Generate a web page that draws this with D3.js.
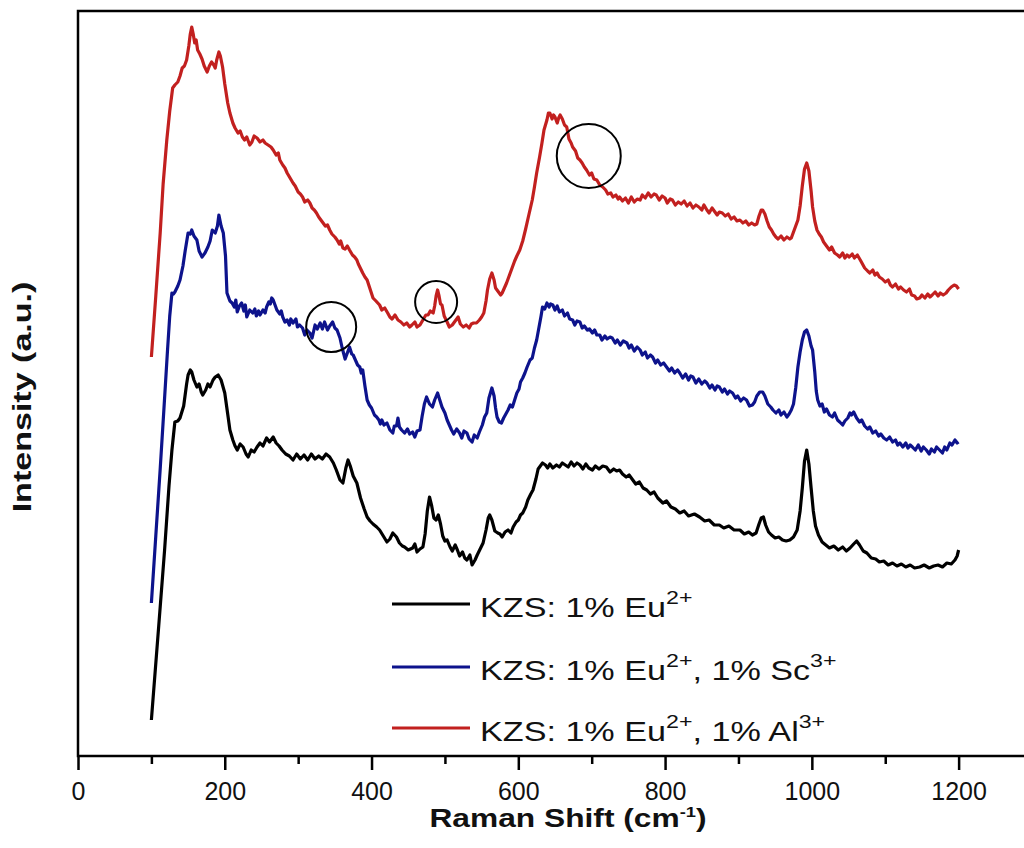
<!DOCTYPE html>
<html>
<head>
<meta charset="utf-8">
<script src="https://cdn.jsdelivr.net/npm/d3@7"></script>
<style>
  body { margin: 0; background: #fff; }
  svg { display: block; font-family: "Liberation Sans", Arial, sans-serif; }
</style>
</head>
<body>
<script>
// Raman spectra, [shift cm-1, intensity a.u.]
const eu = [[100,36],[110,130],[118,206],[124,270],[128,306],[132,334],[136,335],[139,338],[144,350],[148,372],[150,381],[153,386],[155,384],[158,376],[162,369],[165,372],[168,364],[170,361],[174,366],[177,372],[180,369],[184,376],[187,379],[191,381],[195,376],[200,363],[204,342],[207,326],[211,316],[214,310],[217,306],[221,312],[225,309],[229,302],[232,299],[236,306],[240,304],[244,309],[248,313],[252,310],[257,318],[261,314],[266,319],[270,313],[274,310],[278,306],[283,302],[288,300],[293,296],[298,302],[303,297],[308,301],[313,296],[318,302],[323,297],[328,300],[333,297],[338,302],[343,299],[348,293],[352,286],[357,276],[361,273],[365,288],[368,296],[371,290],[375,280],[380,273],[385,258],[390,247],[394,239],[398,235],[402,232],[407,229],[411,226],[416,220],[421,214],[425,217],[429,223],[434,219],[438,213],[442,210],[445,209],[450,206],[456,208],[459,212],[462,204],[466,207],[470,209],[473,222],[476,245],[479,259],[482,250],[485,238],[488,236],[491,241],[494,232],[497,220],[500,215],[503,216],[507,209],[510,205],[514,211],[517,206],[520,200],[524,204],[527,198],[530,196],[534,201],[537,191],[541,196],[544,201],[548,207],[552,213],[556,226],[559,238],[561,241],[564,236],[568,225],[572,223],[575,222],[578,219],[582,224],[586,226],[590,223],[593,229],[597,234],[600,236],[603,241],[606,243],[610,249],[613,256],[617,262],[620,266],[624,277],[627,287],[630,290],[633,293],[637,291],[640,288],[643,292],[647,288],[652,291],[656,289],[660,293],[664,291],[668,289],[672,294],[676,290],[680,293],[684,291],[688,287],[692,292],[696,288],[701,286],[705,290],[710,287],[715,290],[720,289],[725,284],[730,287],[734,285],[738,286],[742,282],[747,279],[751,281],[756,276],[760,272],[765,274],[770,268],[775,266],[780,262],[785,264],[790,258],[797,253],[802,255],[808,249],[814,247],[820,243],[826,245],[832,240],[840,242],[847,239],[854,235],[860,236],[867,231],[874,231],[880,228],[887,230],[894,226],[902,226],[908,222],[914,224],[919,221],[924,223],[928,232],[931,238],[934,239],[937,231],[941,224],[945,221],[950,218],[955,219],[960,216],[965,215],[970,216],[975,219],[980,226],[984,245],[987,268],[990,295],[993,306],[996,292],[999,268],[1002,245],[1005,230],[1009,221],[1014,214],[1019,211],[1024,208],[1030,210],[1036,206],[1042,209],[1047,205],[1052,208],[1057,212],[1061,215],[1065,211],[1070,205],[1075,203],[1081,198],[1087,197],[1092,194],[1098,195],[1104,191],[1110,193],[1116,190],[1122,192],[1128,189],[1134,191],[1140,188],[1147,189],[1153,191],[1160,188],[1166,190],[1172,191],[1178,189],[1184,193],[1190,192],[1195,196],[1198,200],[1200,206]];

const euSc = [[100,153],[106,220],[112,287],[117,346],[122,406],[125,440],[128,463],[130,462],[132,464],[136,470],[139,476],[143,490],[146,505],[150,523],[153,522],[155,526],[158,520],[162,516],[165,505],[169,499],[173,503],[177,509],[180,515],[183,526],[187,523],[190,530],[192,541],[195,530],[198,523],[201,500],[203,463],[207,455],[210,453],[213,449],[215,456],[217,444],[220,450],[223,453],[226,445],[228,451],[230,439],[234,446],[238,443],[241,447],[243,440],[246,445],[248,441],[252,446],[255,443],[257,449],[260,454],[262,452],[264,458],[266,456],[269,450],[271,446],[275,442],[277,445],[279,439],[282,434],[285,436],[288,431],[290,437],[293,433],[297,437],[299,429],[302,431],[306,428],[309,421],[312,426],[316,423],[319,418],[323,431],[326,427],[330,433],[333,427],[336,434],[340,426],[343,430],[347,434],[350,428],[353,426],[357,418],[360,408],[364,397],[367,403],[370,409],[373,402],[375,401],[378,396],[381,391],[384,389],[386,383],[388,386],[391,370],[394,356],[397,351],[400,348],[404,341],[407,339],[410,336],[412,332],[414,336],[417,331],[421,333],[425,326],[429,323],[431,330],[434,330],[436,338],[438,329],[441,326],[445,323],[449,327],[452,322],[456,324],[459,319],[462,325],[466,326],[469,340],[472,352],[475,359],[479,352],[483,349],[486,356],[490,363],[493,356],[496,349],[500,343],[503,336],[506,331],[509,326],[512,322],[516,327],[520,323],[523,318],[526,325],[530,323],[533,317],[537,314],[540,321],[544,318],[547,324],[551,331],[554,339],[557,343],[560,358],[564,368],[567,360],[569,348],[571,339],[574,334],[577,333],[580,338],[583,342],[586,346],[589,351],[592,349],[595,356],[598,363],[601,367],[603,374],[606,378],[609,383],[612,389],[616,396],[619,398],[622,408],[625,416],[628,428],[631,440],[633,449],[636,447],[639,453],[642,449],[644,452],[647,451],[650,446],[653,450],[656,444],[660,446],[663,440],[667,443],[670,437],[674,436],[677,431],[680,435],[684,434],[687,428],[690,430],[694,426],[697,427],[701,423],[704,426],[707,421],[711,421],[714,416],[718,420],[721,417],[725,419],[728,418],[732,413],[735,416],[739,411],[743,415],[748,413],[751,408],[754,411],[758,405],[762,409],[766,406],[769,401],[773,404],[776,398],[780,401],[783,399],[787,393],[790,396],[794,391],[798,393],[802,389],[806,385],[809,388],[813,383],[817,386],[820,383],[824,378],[828,382],[832,376],[835,380],[838,379],[842,373],[846,377],[850,372],[854,375],[857,373],[861,368],[864,371],[868,366],[871,370],[874,369],[878,364],[881,367],[885,362],[888,365],[892,363],[896,358],[899,360],[903,355],[907,358],[911,356],[915,350],[919,351],[922,354],[925,360],[929,364],[933,364],[936,360],[940,352],[944,349],[947,346],[951,343],[955,346],[958,341],[962,344],[966,339],[969,342],[972,346],[975,352],[978,368],[981,389],[984,404],[987,416],[990,424],[993,426],[996,420],[999,410],[1001,406],[1004,384],[1006,365],[1008,356],[1011,350],[1014,352],[1017,344],[1020,347],[1024,341],[1028,339],[1031,343],[1035,336],[1038,334],[1042,331],[1045,335],[1049,338],[1052,343],[1054,341],[1057,344],[1061,338],[1065,334],[1068,336],[1072,330],[1076,327],[1079,329],[1083,323],[1087,325],[1091,320],[1094,322],[1098,318],[1102,316],[1106,319],[1110,314],[1114,316],[1117,311],[1120,313],[1124,309],[1128,313],[1131,308],[1134,311],[1137,309],[1141,306],[1145,311],[1149,305],[1152,309],[1156,306],[1160,302],[1163,307],[1167,304],[1170,309],[1174,306],[1178,303],[1181,309],[1184,306],[1188,313],[1191,311],[1195,316],[1198,313],[1200,314]];

const euAl = [[100,399],[106,460],[112,523],[116,572],[121,616],[125,645],[129,668],[132,671],[136,674],[139,680],[142,688],[145,690],[148,696],[151,710],[153,722],[155,729],[157,722],[159,713],[161,716],[163,706],[166,702],[169,697],[172,690],[176,684],[179,690],[182,694],[185,691],[187,688],[189,696],[192,704],[194,700],[197,689],[200,672],[204,653],[207,643],[211,633],[214,628],[218,623],[221,625],[224,619],[227,616],[230,619],[234,611],[237,614],[240,620],[244,618],[248,614],[252,616],[255,613],[259,611],[263,609],[266,606],[270,601],[273,603],[275,596],[279,591],[282,588],[285,583],[289,578],[293,573],[296,570],[300,564],[303,562],[306,559],[309,554],[313,556],[316,553],[319,548],[322,546],[325,543],[328,539],[331,536],[334,533],[337,530],[340,531],[343,526],[346,522],[350,519],[353,516],[356,512],[358,515],[361,508],[364,507],[367,510],[370,506],[374,501],[377,499],[380,496],[382,492],[384,489],[388,483],[391,479],[394,476],[398,467],[402,458],[406,455],[411,451],[414,446],[418,448],[422,443],[425,439],[428,437],[432,441],[436,436],[440,434],[444,431],[448,433],[452,429],[455,431],[459,434],[462,429],[466,431],[470,436],[474,441],[477,441],[480,445],[484,443],[486,450],[488,460],[490,466],[492,460],[494,452],[496,451],[499,440],[503,434],[506,429],[510,431],[514,435],[518,439],[521,432],[525,429],[529,431],[533,428],[536,432],[539,433],[543,433],[547,436],[550,439],[553,443],[556,455],[558,466],[561,477],[564,483],[567,476],[569,468],[571,466],[574,463],[576,461],[578,463],[581,468],[584,473],[588,481],[592,489],[595,495],[598,500],[602,506],[606,515],[610,527],[614,540],[619,556],[622,569],[625,583],[629,599],[632,612],[635,626],[639,636],[641,643],[643,643],[646,637],[648,641],[650,639],[653,633],[655,638],[657,641],[660,637],[663,631],[666,629],[669,617],[672,613],[674,609],[678,605],[681,598],[684,596],[687,593],[690,589],[693,586],[697,581],[700,583],[703,577],[707,576],[711,571],[715,569],[719,566],[722,562],[726,563],[729,559],[733,561],[736,557],[738,559],[742,555],[746,558],[750,553],[754,559],[758,554],[762,557],[766,556],[769,561],[773,558],[777,563],[781,559],[785,562],[788,561],[792,556],[796,560],[800,558],[803,553],[807,557],[810,556],[814,551],[818,554],[822,552],[826,555],[830,550],[834,553],[838,548],[842,551],[846,549],[850,546],[853,551],[857,546],[860,543],[864,548],[867,545],[871,541],[874,544],[878,543],[882,540],[886,542],[890,537],[894,539],[898,535],[902,536],[906,533],[910,535],[914,531],[918,533],[922,531],[925,532],[928,540],[931,546],[933,546],[936,542],[939,535],[942,529],[945,526],[948,522],[951,519],[954,517],[958,520],[962,516],[966,519],[970,517],[972,518],[975,524],[978,530],[981,536],[984,550],[987,570],[990,587],[993,593],[996,585],[999,565],[1001,549],[1004,535],[1007,526],[1010,522],[1013,519],[1016,514],[1020,510],[1024,506],[1027,509],[1031,503],[1035,501],[1038,499],[1042,503],[1045,498],[1048,501],[1051,499],[1055,502],[1058,498],[1062,501],[1066,496],[1069,492],[1072,488],[1076,485],[1079,483],[1083,486],[1086,481],[1089,483],[1092,479],[1096,477],[1100,474],[1104,476],[1107,471],[1110,469],[1114,472],[1118,467],[1121,469],[1125,466],[1129,464],[1133,467],[1136,461],[1140,460],[1143,457],[1147,458],[1150,461],[1154,458],[1158,462],[1161,459],[1164,461],[1168,464],[1172,460],[1175,463],[1179,461],[1183,463],[1186,466],[1190,469],[1194,471],[1197,470],[1200,467]];

const xMajor = [0, 200, 400, 600, 800, 1000, 1200];
const xMinor = [100, 300, 500, 700, 900, 1100];

// circled features: [shift, intensity]
const marks = [[345, 429], [488, 454], [696, 600]];
const markR = [25, 21, 32];

const W = 1024, H = 848;
const L = 78, T = 11, R = 1032, B = 756;
const stretch = 1.22; // the labels in the original are drawn wide

const svg = d3.select("body").append("svg")
  .attr("width", W).attr("height", H);

const x = d3.scaleLinear().domain([0, 1300]).range([L, R]);
const y = d3.scaleLinear().domain([0, 745]).range([B, T]);

const line = d3.line().x(d => x(d[0])).y(d => y(d[1]));

const series = [
  {data: eu, color: "#000000"},
  {data: euSc, color: "#0d138c"},
  {data: euAl, color: "#c2201f"}
];

// curves
svg.append("g").selectAll("path").data(series.slice().reverse()).join("path")
  .attr("d", d => line(d.data))
  .attr("fill", "none")
  .attr("stroke", d => d.color)
  .attr("stroke-width", 3.2)
  .attr("stroke-linejoin", "round");

svg.append("g").selectAll("circle").data(marks).join("circle")
  .attr("cx", d => x(d[0]))
  .attr("cy", d => y(d[1]))
  .attr("r", (d, i) => markR[i])
  .attr("fill", "none")
  .attr("stroke", "#000")
  .attr("stroke-width", 2);

// frame
svg.append("rect")
  .attr("x", L).attr("y", T)
  .attr("width", R - L).attr("height", B - T)
  .attr("fill", "none").attr("stroke", "#000").attr("stroke-width", 2.5);

const xAxis = svg.append("g").attr("transform", `translate(0,${B})`)
  .call(d3.axisBottom(x).tickValues(xMajor).tickSize(14).tickPadding(12).tickFormat(d3.format("d")));
xAxis.select(".domain").remove();
xAxis.selectAll("line").attr("stroke-width", 2.5);
xAxis.selectAll("text").attr("font-size", 25).attr("fill", "#111")
  .attr("font-family", "Liberation Sans, Arial, sans-serif");

const xMin = svg.append("g").attr("transform", `translate(0,${B})`)
  .call(d3.axisBottom(x).tickValues(xMinor).tickSize(8).tickFormat(""));
xMin.select(".domain").remove();
xMin.selectAll("line").attr("stroke-width", 2.5);

// axis titles
const xt = svg.append("text").attr("transform", `translate(568,827) scale(${stretch},1)`)
  .attr("text-anchor", "middle").attr("font-size", 26).attr("font-weight", "bold").attr("fill", "#111");
xt.append("tspan").text("Raman Shift (cm");
xt.append("tspan").attr("font-size", 15).attr("dy", -10).text("-1");
xt.append("tspan").attr("dy", 10).text(")");

svg.append("text").attr("transform", "translate(31,397) rotate(-90) scale(1.31,1)")
  .attr("text-anchor", "middle").attr("font-size", 26).attr("font-weight", "bold").attr("fill", "#111")
  .text("Intensity (a.u.)");

// legend
const legendLabels = [
  [["KZS: 1% Eu", 0], ["2+", 1]],
  [["KZS: 1% Eu", 0], ["2+", 1], [", 1% Sc", 0], ["3+", 1]],
  [["KZS: 1% Eu", 0], ["2+", 1], [", 1% Al", 0], ["3+", 1]]
];
const legendY = [604, 667, 728];

const lg = svg.append("g").selectAll("g").data(series).join("g")
  .attr("transform", (d, i) => `translate(392,${legendY[i]})`);
lg.append("line").attr("x1", 0).attr("x2", 78)
  .attr("stroke", d => d.color).attr("stroke-width", 3);
lg.each(function(d, i) {
  const t = d3.select(this).append("text")
    .attr("transform", `translate(88,13) scale(${stretch},1)`)
    .attr("font-size", 28).attr("fill", "#111");
  let up = false;
  legendLabels[i].forEach(([s, sup]) => {
    const ts = t.append("tspan").text(s);
    if (sup && !up) { ts.attr("font-size", 19).attr("dy", -13); up = true; }
    else if (!sup && up) { ts.attr("dy", 13); up = false; }
  });
});
</script>
</body>
</html>
